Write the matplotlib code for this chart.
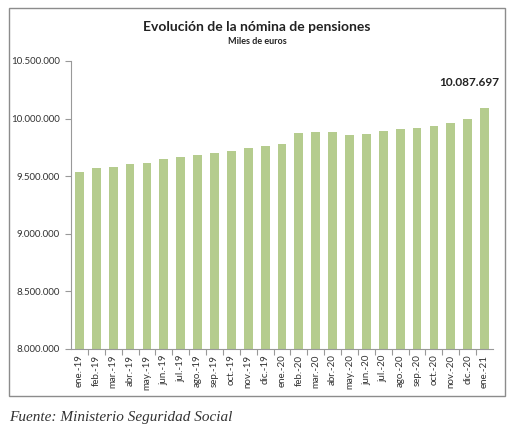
import matplotlib
matplotlib.use("Agg")
import matplotlib.pyplot as plt
from matplotlib.patches import Rectangle
from matplotlib.ticker import FuncFormatter, MultipleLocator
import numpy as np

months = ["ene.-19", "feb.-19", "mar.-19", "abr.-19", "may.-19", "jun.-19", "jul.-19",
          "ago.-19", "sep.-19", "oct.-19", "nov.-19", "dic.-19",
          "ene.-20", "feb.-20", "mar.-20", "abr.-20", "may.-20", "jun.-20", "jul.-20",
          "ago.-20", "sep.-20", "oct.-20", "nov.-20", "dic.-20", "ene.-21"]
nomina = [9539000, 9568000, 9583000, 9603000, 9615000, 9647000, 9667000,
          9684000, 9699000, 9719000, 9745000, 9765000,
          9777000, 9878000, 9884000, 9884000, 9858000, 9867000, 9893000,
          9913000, 9919000, 9939000, 9965000, 9997000, 10087697]


def miles(v, pos=None):
    return f"{int(round(v)):,}".replace(",", ".")


plt.rcParams["font.family"] = ["Lato", "DejaVu Sans"]

W, H = 517, 437
fig = plt.figure(figsize=(W / 100, H / 100), dpi=100)
ax = fig.add_axes([71 / W, 1 - 349 / H, (493 - 71) / W, (349 - 61) / H])

x = np.arange(len(months))
ax.bar(x, nomina, width=0.52, color="#b5cc8e")
ax.set_xlim(-0.5, len(months) - 0.5)
ax.set_ylim(8000000, 10500000)

ax.yaxis.set_major_locator(MultipleLocator(500000))
ax.yaxis.set_major_formatter(FuncFormatter(miles))
ax.tick_params(axis="y", labelsize=7, colors="#333333", length=4, width=0.8, color="#999999", pad=4)

ax.set_xticks(x)
ax.set_xticklabels(months, rotation=90, fontsize=7, color="#333333")
ax.set_xticks(x[:-1] + 0.5, minor=True)
ax.tick_params(axis="x", which="major", length=0, pad=4)
ax.tick_params(axis="x", which="minor", length=4, width=0.8, color="#999999")

for side in ("top", "right"):
    ax.spines[side].set_visible(False)
for side in ("left", "bottom"):
    ax.spines[side].set_color("#999999")
    ax.spines[side].set_linewidth(0.8)

ax.annotate(miles(nomina[-1]), xy=(x[-1], nomina[-1]), xytext=(-11, 15),
            textcoords="offset points", ha="center", va="bottom",
            fontsize=8.5, fontweight="bold", color="#222222")

fig.text(257 / W, 1 - 27 / H, "Evolución de la nómina de pensiones",
         ha="center", va="center", fontsize=10, fontweight="bold", color="#222222")
fig.text(257 / W, 1 - 42 / H, "Miles de euros",
         ha="center", va="center", fontsize=6.5, fontweight="bold", color="#222222")

fig.patches.append(Rectangle((9 / W, 1 - 396 / H), (505 - 9) / W, (396 - 8) / H,
                             transform=fig.transFigure, fill=False,
                             edgecolor="#8c8c8c", linewidth=1))

fig.text(9 / W, 1 - 417 / H, "Fuente: Ministerio Seguridad Social",
         ha="left", va="center", fontsize=11, style="italic",
         family="Liberation Serif", color="#333333")

fig.savefig("out.png", dpi=100)
